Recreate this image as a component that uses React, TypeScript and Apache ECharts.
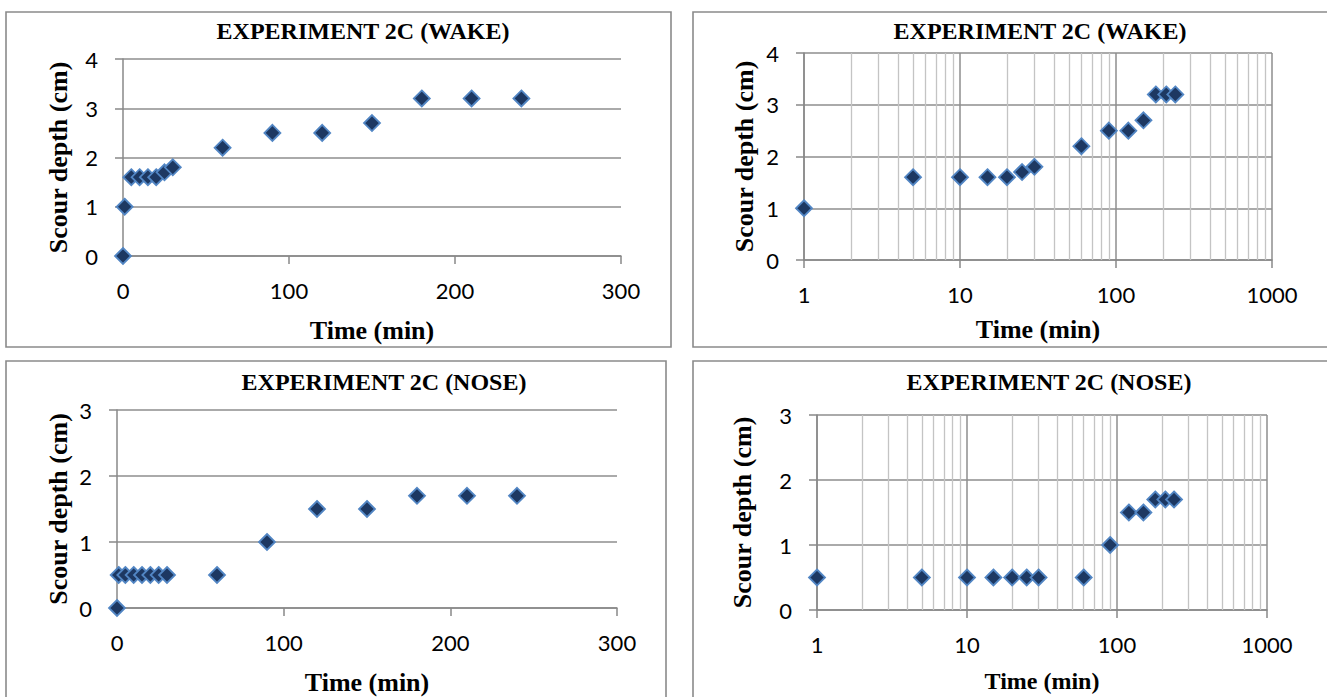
import React, { useEffect, useRef } from "react";
import * as echarts from "echarts";

// ---------- data ----------
const timeMin = [0, 1, 5, 10, 15, 20, 25, 30, 60, 90, 120, 150, 180, 210, 240];
const wakeDepth = [0, 1, 1.6, 1.6, 1.6, 1.6, 1.7, 1.8, 2.2, 2.5, 2.5, 2.7, 3.2, 3.2, 3.2];
const noseDepth = [0, 0.5, 0.5, 0.5, 0.5, 0.5, 0.5, 0.5, 0.5, 1, 1.5, 1.5, 1.7, 1.7, 1.7];
const logMinorLines = [2, 3, 4, 5, 6, 7, 8, 9, 20, 30, 40, 50, 60, 70, 80, 90, 200, 300, 400, 500, 600, 700, 800, 900];

const titles = [
  "EXPERIMENT 2C (WAKE)",
  "EXPERIMENT 2C (WAKE)",
  "EXPERIMENT 2C (NOSE)",
  "EXPERIMENT 2C (NOSE)",
];
const xName = "Time (min)";
const yName = "Scour depth (cm)";

// ---------- style ----------
const axisGray = "#888888";
const gridGray = "#8e8e8e";
const minorGray = "#c4c4c4";
const serif = "'Liberation Serif', 'Times New Roman', serif";
const sans = "Lato, Carlito, Calibri, sans-serif";

type Panel = {
  grid: { left: number; top: number; width: number; height: number };
  log: boolean;
  depth: number[];
  yMax: number;
  title: { x: number; y: number };
  xGap: number;
  xNameSize: number;
  yGap: number;
  box: { x: number; y: number; w: number; h: number };
};

const panels: Panel[] = [
  {
    grid: { left: 123, top: 59, width: 498, height: 197 },
    log: false,
    depth: wakeDepth,
    yMax: 4,
    title: { x: 363, y: 31 },
    xGap: 61,
    xNameSize: 26,
    yGap: 52,
    box: { x: 6, y: 12, w: 665, h: 335 },
  },
  {
    grid: { left: 804, top: 53, width: 468, height: 207 },
    log: true,
    depth: wakeDepth,
    yMax: 4,
    title: { x: 1040, y: 31 },
    xGap: 56,
    xNameSize: 26,
    yGap: 47,
    box: { x: 693, y: 12, w: 660, h: 335 },
  },
  {
    grid: { left: 117, top: 410, width: 500, height: 198 },
    log: false,
    depth: noseDepth,
    yMax: 3,
    title: { x: 384, y: 382 },
    xGap: 61,
    xNameSize: 26,
    yGap: 46,
    box: { x: 6, y: 361, w: 660, h: 360 },
  },
  {
    grid: { left: 817, top: 415, width: 450, height: 195 },
    log: true,
    depth: noseDepth,
    yMax: 3,
    title: { x: 1049, y: 382 },
    xGap: 59,
    xNameSize: 24,
    yGap: 62,
    box: { x: 693, y: 361, w: 660, h: 360 },
  },
];

function buildOption() {
  const grids: any[] = [];
  const xAxes: any[] = [];
  const yAxes: any[] = [];
  const series: any[] = [];
  const graphics: any[] = [];

  panels.forEach((p, i) => {
    grids.push({ ...p.grid, containLabel: false });
    const common = {
      gridIndex: i,
      name: xName,
      nameLocation: "middle",
      nameGap: p.xGap,
      nameTextStyle: { fontFamily: serif, fontWeight: "bold", fontSize: p.xNameSize, color: "#000" },
      axisLine: { show: true, onZero: false, lineStyle: { color: axisGray, width: 1.5 } },
      axisTick: { show: true, length: 8, lineStyle: { color: axisGray, width: 1.5 } },
      axisLabel: { margin: 23, fontFamily: sans, fontSize: 22, color: "#000" },
    };
    if (p.log) {
      xAxes.push({
        ...common,
        type: "log",
        logBase: 10,
        min: 1,
        max: 1000,
        axisLabel: { ...common.axisLabel, formatter: (v: number) => String(Math.round(v)) },
        splitLine: { show: true, lineStyle: { color: gridGray, width: 1.5 } },
      });
    } else {
      xAxes.push({
        ...common,
        type: "value",
        min: 0,
        max: 300,
        interval: 100,
        splitLine: { show: false },
      });
    }
    yAxes.push({
      type: "value",
      gridIndex: i,
      min: 0,
      max: p.yMax,
      interval: 1,
      name: yName,
      nameLocation: "middle",
      nameGap: p.yGap,
      nameTextStyle: { fontFamily: serif, fontWeight: "bold", fontSize: 26, color: "#000" },
      axisLine: { show: true, onZero: false, lineStyle: { color: axisGray, width: 1.5 } },
      axisTick: { show: true, length: 8, lineStyle: { color: axisGray, width: 1.5 } },
      axisLabel: { margin: 25, fontFamily: sans, fontSize: 22, color: "#000" },
      splitLine: { show: true, lineStyle: { color: gridGray, width: 1.5 } },
    });

    const data = timeMin
      .map((t, k) => [t, p.depth[k]])
      .filter((d) => (p.log ? d[0] > 0 : true));

    const s: any = {
      type: "scatter",
      xAxisIndex: i,
      yAxisIndex: i,
      z: 10,
      symbol: "diamond",
      symbolSize: 16,
      itemStyle: { color: "#1d3862", borderColor: "#5286c4", borderWidth: 1.8, opacity: 1 },
      data,
    };
    if (p.log) {
      s.markLine = {
        silent: true,
        symbol: ["none", "none"],
        label: { show: false },
        lineStyle: { color: minorGray, width: 1.3, type: "solid" },
        emphasis: { disabled: true },
        data: logMinorLines.map((v) => ({ xAxis: v })),
      };
    }
    series.push(s);

    graphics.push({
      type: "rect",
      shape: { x: p.box.x, y: p.box.y, width: p.box.w, height: p.box.h },
      style: { fill: "none", stroke: "#8a8a8a", lineWidth: 1.6 },
      silent: true,
      z: -1,
    });
    graphics.push({
      type: "text",
      x: p.title.x,
      y: p.title.y,
      style: {
        text: titles[i],
        fontFamily: serif,
        fontWeight: "bold",
        fontSize: 24,
        fill: "#000",
        align: "center",
        verticalAlign: "middle",
      },
      silent: true,
    });
  });

  return {
    animation: false,
    backgroundColor: "#ffffff",
    grid: grids,
    xAxis: xAxes,
    yAxis: yAxes,
    series,
    graphic: graphics,
  };
}

export default function App() {
  const ref = useRef<HTMLDivElement>(null);
  useEffect(() => {
    if (!ref.current) return;
    const chart = echarts.init(ref.current, undefined, { renderer: "svg" });
    chart.setOption(buildOption() as any);
    return () => chart.dispose();
  }, []);
  return (
    <div
      ref={ref}
      style={{ position: "fixed", left: 0, top: 0, width: 1327, height: 697, background: "#fff" }}
    />
  );
}
